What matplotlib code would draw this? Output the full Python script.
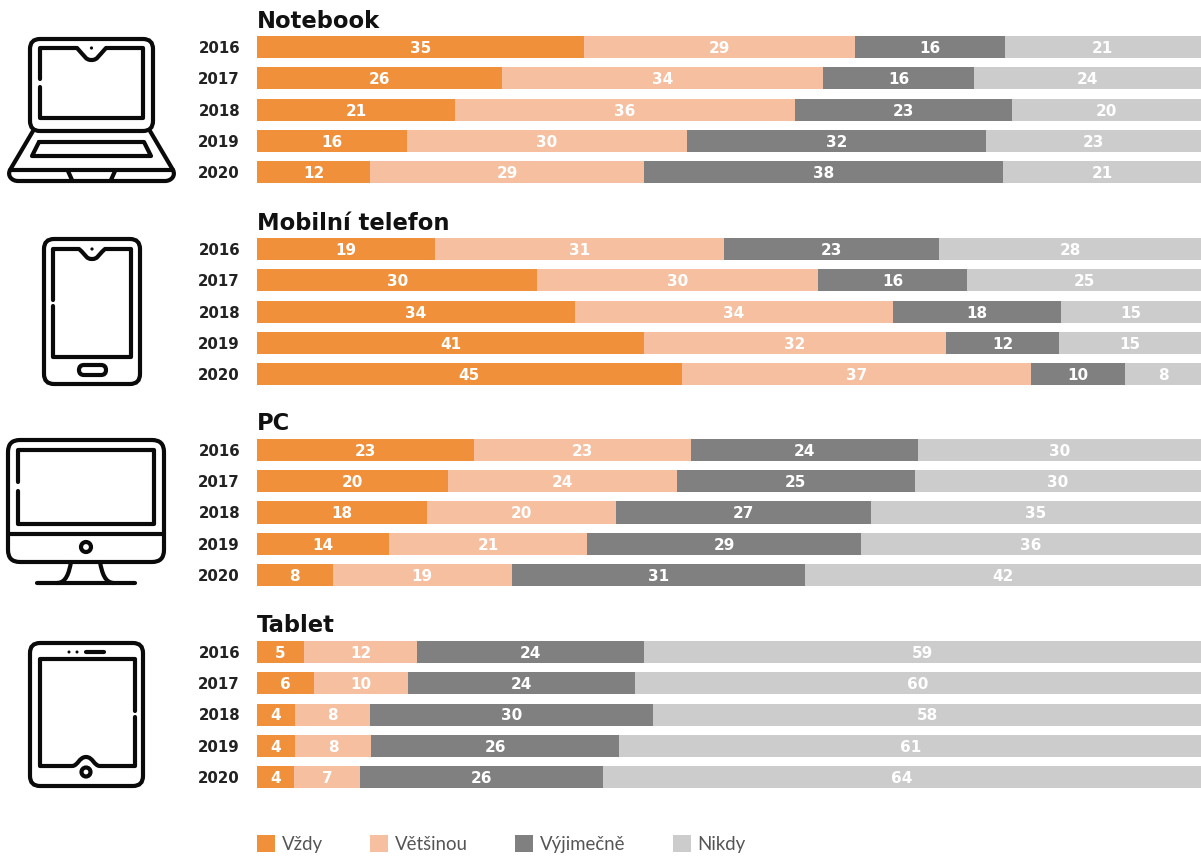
import matplotlib
matplotlib.use("Agg")
import matplotlib.pyplot as plt
import numpy as np
from matplotlib.lines import Line2D
from matplotlib.patches import Circle, FancyBboxPatch, Patch, PathPatch
from matplotlib.path import Path

plt.rcParams["font.family"] = ["Lato", "DejaVu Sans"]

years = ["2016", "2017", "2018", "2019", "2020"]
responses = ["Vždy", "Většinou", "Výjimečně", "Nikdy"]
colors = ["#F0903A", "#F5BFA0", "#808080", "#CCCCCC"]

notebook = [[35, 29, 16, 21], [26, 34, 16, 24], [21, 36, 23, 20], [16, 30, 32, 23], [12, 29, 38, 21]]
mobile = [[19, 31, 23, 28], [30, 30, 16, 25], [34, 34, 18, 15], [41, 32, 12, 15], [45, 37, 10, 8]]
pc = [[23, 23, 24, 30], [20, 24, 25, 30], [18, 20, 27, 35], [14, 21, 29, 36], [8, 19, 31, 42]]
tablet = [[5, 12, 24, 59], [6, 10, 24, 60], [4, 8, 30, 58], [4, 8, 26, 61], [4, 7, 26, 64]]

devices = ["Notebook", "Mobilní telefon", "PC", "Tablet"]
tables = [notebook, mobile, pc, tablet]

W, H = 1201, 857
fig = plt.figure(figsize=(W / 100, H / 100), dpi=100, facecolor="white")

# Pixel-coordinate layer for the device pictograms
canvas = fig.add_axes([0, 0, 1, 1], zorder=0)
canvas.set_xlim(0, W)
canvas.set_ylim(H, 0)
canvas.axis("off")
LW = 3.0
INK = "#0a0a0a"


def rounded(x0, y0, x1, y1, r, lw=LW):
    canvas.add_patch(FancyBboxPatch((x0 + r, y0 + r), x1 - x0 - 2 * r, y1 - y0 - 2 * r,
                                    boxstyle=f"round,pad={r},rounding_size={r}",
                                    fc="none", ec=INK, lw=lw, mutation_aspect=1))


def stroke(points, lw=LW):
    xs, ys = zip(*points)
    canvas.add_line(Line2D(xs, ys, color=INK, lw=lw, solid_capstyle="round", solid_joinstyle="round"))


def curve(verts, codes, lw=LW):
    canvas.add_patch(PathPatch(Path(verts, codes), fc="none", ec=INK, lw=lw, capstyle="round", joinstyle="round"))


def notched_screen(x0, y0, x1, y1, nx0, nx1, dip, gap0, gap1):
    # Screen outline with a camera notch on top and a small break on the left side
    mid = (nx0 + nx1) / 2
    curve([(x0, gap0), (x0, y0), (nx0, y0), (nx0 + 8, y0 + dip * 0.7), (mid - 6, y0 + dip), (mid, y0 + dip),
           (mid + 6, y0 + dip), (nx1 - 8, y0 + dip * 0.7), (nx1, y0), (x1, y0), (x1, y1), (x0, y1), (x0, gap1)],
          [Path.MOVETO, Path.LINETO, Path.LINETO, Path.CURVE4, Path.CURVE4, Path.CURVE4,
           Path.CURVE4, Path.CURVE4, Path.CURVE4, Path.LINETO, Path.LINETO, Path.LINETO, Path.LINETO])
    canvas.add_patch(Circle((mid, y0), 1.6, fc=INK, ec="none"))


# Notebook
rounded(30, 39, 153, 131, 10)
notched_screen(40, 48, 143, 118, 77, 106, 12, 79, 87)
curve([(33, 131), (10, 170), (7, 176), (12, 181), (18, 181), (165, 181), (171, 181), (176, 176), (173, 170), (150, 131)],
      [Path.MOVETO, Path.LINETO, Path.CURVE4, Path.CURVE4, Path.CURVE4, Path.LINETO,
       Path.CURVE4, Path.CURVE4, Path.CURVE4, Path.LINETO])
stroke([(10, 170), (173, 170)])
stroke([(39, 142), (144, 142), (151, 156), (32, 156), (39, 142)])
stroke([(68, 171), (72, 180)])
stroke([(115, 171), (111, 180)])

# Mobile phone
rounded(44, 239, 140, 384, 10)
notched_screen(53, 249, 131, 357, 79, 105, 10, 300, 306)
rounded(79, 365, 106, 375, 5)

# PC
rounded(8, 440, 164, 562, 12)
stroke([(18, 482), (18, 450), (154, 450), (154, 524), (18, 524), (18, 491)])
stroke([(8, 534), (164, 534)])
canvas.add_patch(Circle((86, 547), 5, fc="none", ec=INK, lw=LW))
curve([(71, 562), (69, 573), (66, 583), (57, 583)], [Path.MOVETO, Path.CURVE4, Path.CURVE4, Path.CURVE4])
curve([(100, 562), (102, 573), (105, 583), (114, 583)], [Path.MOVETO, Path.CURVE4, Path.CURVE4, Path.CURVE4])
stroke([(37, 583), (135, 583)])

# Tablet
rounded(30, 643, 143, 786, 10)
curve([(135, 711), (135, 659), (40, 659), (40, 766), (72, 766), (78, 766), (79, 757), (86, 757),
       (93, 757), (94, 766), (100, 766), (135, 766), (135, 717)],
      [Path.MOVETO, Path.LINETO, Path.LINETO, Path.LINETO, Path.LINETO, Path.CURVE4, Path.CURVE4, Path.CURVE4,
       Path.CURVE4, Path.CURVE4, Path.CURVE4, Path.LINETO, Path.LINETO])
canvas.add_patch(Circle((86, 772), 4.5, fc="none", ec=INK, lw=LW))
canvas.add_patch(Circle((69, 652), 1.5, fc=INK, ec="none"))
canvas.add_patch(Circle((77, 652), 1.5, fc=INK, ec="none"))
stroke([(86, 652), (104, 652)])

# One stacked panel per device, each row scaled to its own total
first_rows = [47, 249, 450, 652]
row_step = 31.25
bar_height = 22 / row_step
x_left, x_right = 257, 1201

for device, table, first in zip(devices, tables, first_rows):
    top = first - row_step / 2
    height = row_step * len(years)
    ax = fig.add_axes([x_left / W, 1 - (top + height) / H, (x_right - x_left) / W, height / H], zorder=1)
    ax.patch.set_alpha(0)
    values = np.array(table, dtype=float)
    shares = values / values.sum(axis=1, keepdims=True) * 100
    positions = np.arange(len(years))
    left = np.zeros(len(years))
    for j, color in enumerate(colors):
        ax.barh(positions, shares[:, j], left=left, height=bar_height, color=color, linewidth=0)
        for i, value in enumerate(table):
            ax.text(left[i] + shares[i, j] / 2, i, str(value[j]), ha="center", va="center_baseline",
                    color="white", fontsize=11, fontweight="bold", family=["DejaVu Sans"])
        left += shares[:, j]
    ax.set_xlim(0, 100)
    ax.set_ylim(len(years) - 0.5, -0.5)
    ax.set_yticks(positions, years, fontsize=10.8, fontweight="bold", color="#222222", family=["DejaVu Sans"])
    ax.tick_params(axis="y", length=0, pad=12.2)
    ax.xaxis.set_visible(False)
    for spine in ax.spines.values():
        spine.set_visible(False)
    fig.text(x_left / W, 1 - (first - 26) / H, device, ha="left", va="center", fontsize=16.3,
             fontweight="bold", color="#111111", family=["DejaVu Sans"])

handles = [Patch(facecolor=c, edgecolor="none", label=r) for c, r in zip(colors, responses)]
fs = 13.4
px = fs * 100 / 72
fig.legend(handles=handles, loc="lower left", bbox_to_anchor=(x_left / W, 1 - 853 / H), ncols=4, frameon=False,
           fontsize=fs, labelcolor="#555555", borderpad=0, borderaxespad=0, handlelength=18 / px,
           handleheight=19 / px, handletextpad=7 / px, columnspacing=47 / px)

fig.savefig("out.png", dpi=100)
